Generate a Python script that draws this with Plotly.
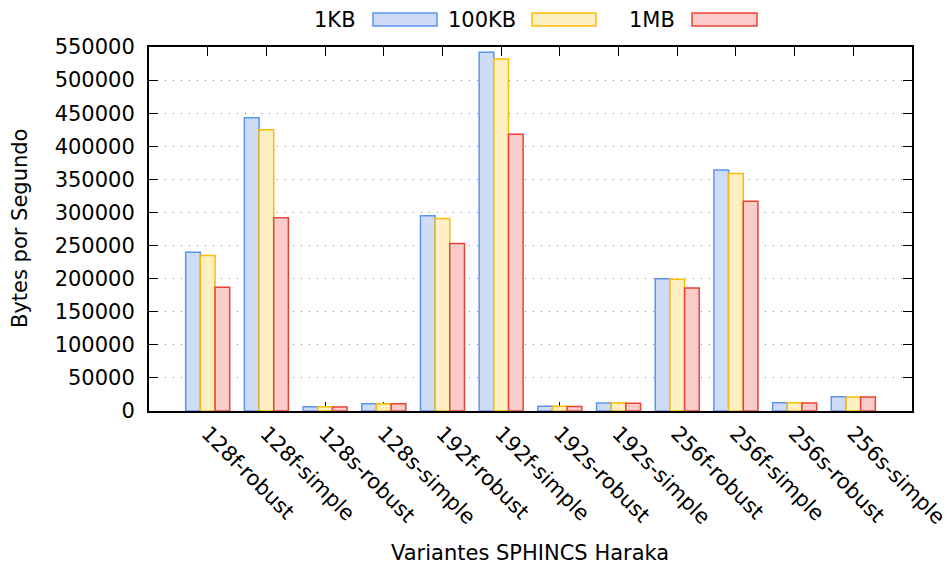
import plotly.graph_objects as go

# SPHINCS+ Haraka variants and measured throughput (bytes per second)
variants = ["128f-robust", "128f-simple", "128s-robust", "128s-simple",
            "192f-robust", "192f-simple", "192s-robust", "192s-simple",
            "256f-robust", "256f-simple", "256s-robust", "256s-simple"]
kb1 = [240000, 443000, 6500, 11000, 295000, 542000, 7200, 12000, 200000, 364000, 12500, 21500]
kb100 = [235000, 425000, 6300, 11000, 291000, 532000, 7000, 12000, 199000, 359000, 12500, 21000]
mb1 = [187000, 292000, 6000, 10800, 253000, 418000, 6800, 11800, 186000, 317000, 12000, 21000]

series_names = ["1KB", "100KB", "1MB"]
y_ticks = list(range(0, 550001, 50000))

W, H = 950, 567
L, R, T, B = 149, 912, 47, 411  # plot area in pixels

fills = ["#cfdcf8", "#fff0c4", "#f9ccc9"]
lines = ["#5b95f0", "#fbbc04", "#ea4335"]
font = "DejaVu Sans"
fsize = 21

fig = go.Figure()
for name, vals, fc, lc in zip(series_names, [kb1, kb100, mb1], fills, lines):
    fig.add_trace(go.Bar(
        x=list(range(len(variants))), y=vals, name=name,
        marker=dict(color=fc, line=dict(color=lc, width=1.5)),
        showlegend=False,
    ))

def px_x(p):
    return (p - L) / (R - L)

def px_y(p):
    return (B - p) / (B - T)

# legend: label followed by swatch
legend_items = [(358, 373, 437), (518, 532, 596), (677, 692, 757)]
shapes, annotations = [], []
for (txt_end, s0, s1), name, fc, lc in zip(legend_items, series_names, fills, lines):
    shapes.append(dict(type="rect", xref="paper", yref="paper",
                       x0=px_x(s0), x1=px_x(s1), y0=px_y(26), y1=px_y(13),
                       fillcolor=fc, line=dict(color=lc, width=1.5)))
    annotations.append(dict(xref="paper", yref="paper", x=px_x(txt_end), y=px_y(19.5),
                            text=name, showarrow=False, xanchor="right", yanchor="middle",
                            font=dict(family=font, size=fsize, color="black")))

# axis titles
annotations.append(dict(xref="paper", yref="paper", x=px_x(530), y=px_y(553),
                        text="Variantes SPHINCS Haraka", showarrow=False,
                        xanchor="center", yanchor="middle",
                        font=dict(family=font, size=fsize, color="black")))
annotations.append(dict(xref="paper", yref="paper", x=px_x(20), y=px_y(229),
                        text="Bytes por Segundo", showarrow=False, textangle=-90,
                        xanchor="center", yanchor="middle",
                        font=dict(family=font, size=fsize, color="black")))

fig.update_layout(
    width=W, height=H,
    margin=dict(l=L, r=W - R, t=T, b=H - B, pad=0),
    plot_bgcolor="white", paper_bgcolor="white",
    barmode="group", bargap=0.25, bargroupgap=0,
    font=dict(family=font, size=fsize, color="black"),
    shapes=shapes, annotations=annotations,
    xaxis=dict(
        range=[-1, 12], tickmode="array", tickvals=list(range(len(variants))),
        ticktext=variants, tickangle=45, ticks="inside", ticklen=9, tickcolor="black",
        showline=True, linecolor="black", linewidth=2, mirror="allticks",
        showgrid=False, layer="below traces", automargin=False,
    ),
    yaxis=dict(
        range=[0, 550000], tickmode="array", tickvals=y_ticks,
        ticktext=[str(v) for v in y_ticks], ticks="inside", ticklen=9, tickcolor="black",
        showline=True, linecolor="black", linewidth=2, mirror="allticks",
        ticklabelstandoff=8, automargin=False,
        showgrid=True, gridcolor="#888888", griddash="1px,7px", gridwidth=1.2,
        zeroline=False,
    ),
)

fig.write_html("out.html")
